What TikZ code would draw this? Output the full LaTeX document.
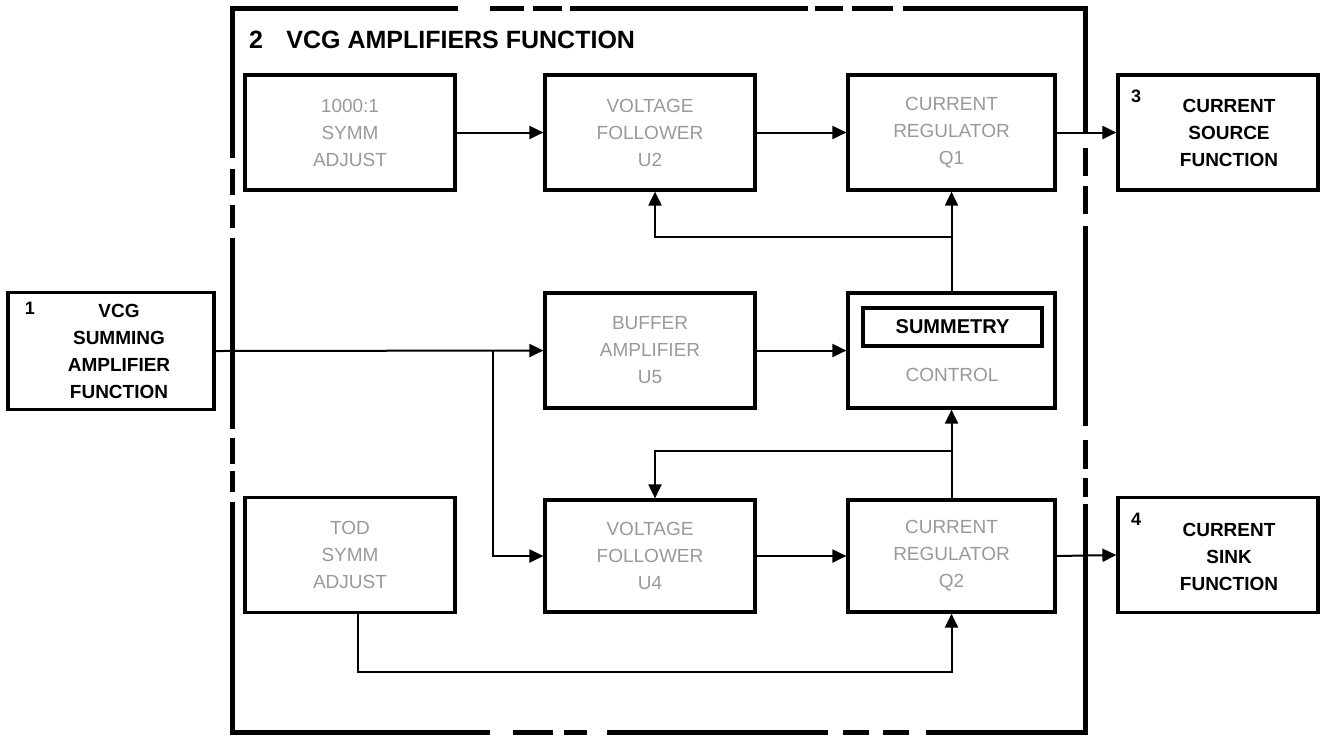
\documentclass[tikz,border=0pt]{standalone}
\usepackage{fontspec}
\setmainfont{Liberation Sans}
\usetikzlibrary{arrows.meta}
\begin{document}
\begin{tikzpicture}[x=0.5pt,y=-0.5pt,
  blk/.style={draw, line width=1.6pt, inner sep=0pt, align=center,
    font=\fontsize{9.5}{13.5}\selectfont, text=black!40},
  bx/.style={draw, line width=1.6pt, inner sep=0pt},
  btext/.style={inner sep=0pt, align=center, font=\fontsize{9.5}{13.5}\selectfont\bfseries},
  gtext/.style={inner sep=0pt, align=center, font=\fontsize{9.5}{13.5}\selectfont, text=black!40},
  num/.style={inner sep=0pt, font=\fontsize{9}{11}\selectfont\bfseries},
  conn/.style={line width=1pt},
  arr/.style={conn, -{Triangle[length=7pt,width=6.5pt]}},
  brd/.style={line width=2.5pt}
]
\useasboundingbox (0,0) rectangle (1325,740);

% dashed enclosure
\draw[brd] (232,158) -- (232,8) -- (458,8);
\draw[brd] (490,8) -- (524,8);
\draw[brd] (533,8) -- (562,8);
\draw[brd] (570,8) -- (808,8);
\draw[brd] (815,8) -- (843,8);
\draw[brd] (852,8) -- (893,8);
\draw[brd] (903,8) -- (1085,8) -- (1085,134);
\draw[brd] (1085,148) -- (1085,176);
\draw[brd] (1085,186) -- (1085,214);
\draw[brd] (1085,226) -- (1085,426);
\draw[brd] (1085,440) -- (1085,469);
\draw[brd] (1085,478) -- (1085,497);
\draw[brd] (1085,504) -- (1085,732) -- (926,732);
\draw[brd] (909,732) -- (883,732);
\draw[brd] (869,732) -- (843,732);
\draw[brd] (828,732) -- (607,732);
\draw[brd] (587,732) -- (564,732);
\draw[brd] (553,732) -- (513,732);
\draw[brd] (490,732) -- (232,732) -- (232,502);
\draw[brd] (232,492) -- (232,471);
\draw[brd] (232,464) -- (232,438);
\draw[brd] (232,429) -- (232,238);
\draw[brd] (232,228) -- (232,205);
\draw[brd] (232,195) -- (232,169);

% title
\node[inner sep=0pt, font=\fontsize{12.5}{14}\selectfont\bfseries] (n2) at (256,40) {2};
\node[inner sep=0pt, anchor=west, font=\fontsize{12.5}{14}\selectfont\bfseries] (ttl) at (286,40) {VCG AMPLIFIERS FUNCTION};

% top row
\node[blk, minimum width=105pt, minimum height=57.5pt] (A) at (350,132.5) {1000:1\\SYMM\\ADJUST};
\node[blk, minimum width=105pt, minimum height=57.5pt] (U2) at (650,132.5) {VOLTAGE\\FOLLOWER\\U2};
\node[blk, minimum width=103.5pt, minimum height=57.5pt] (Q1) at (951.5,132.5) {CURRENT\\REGULATOR\\Q1};
\node[bx, minimum width=100pt, minimum height=57.5pt] (F3) at (1218,132.5) {};
\node[num] (n3) at (1136,96) {3};
\node[btext] (t3) at (1229,133) {CURRENT\\SOURCE\\FUNCTION};

% middle row
\node[bx, minimum width=103pt, minimum height=58.5pt] (F1) at (111,351) {};
\node[num] (n1) at (30,308) {1};
\node[btext] (t1) at (119,351) {VCG\\SUMMING\\AMPLIFIER\\FUNCTION};
\node[blk, minimum width=105pt, minimum height=57.5pt] (U5) at (650,350.5) {BUFFER\\AMPLIFIER\\U5};
\node[bx, minimum width=103.5pt, minimum height=57.5pt] (CT) at (951.5,350.5) {};
\node[draw, line width=2.2pt, inner sep=0pt, minimum width=89.5pt, minimum height=19pt,
  font=\fontsize{10}{12}\selectfont\bfseries] (SY) at (952.5,327) {SUMMETRY};
\node[gtext] (tc) at (952,375) {CONTROL};

% bottom row
\node[blk, minimum width=105pt, minimum height=57.5pt] (TOD) at (350,555) {TOD\\SYMM\\ADJUST};
\node[blk, minimum width=105pt, minimum height=56pt] (U4) at (650,556) {VOLTAGE\\FOLLOWER\\U4};
\node[blk, minimum width=103.5pt, minimum height=56pt] (Q2) at (951.5,556) {CURRENT\\REGULATOR\\Q2};
\node[bx, minimum width=100pt, minimum height=57.5pt] (F4) at (1218,555) {};
\node[num] (n4) at (1136,519) {4};
\node[btext] (t4) at (1229,557) {CURRENT\\SINK\\FUNCTION};

% connectors
\coordinate (j1) at (493,350.5);
\coordinate (k1) at (951.5,237);
\coordinate (k2) at (655,237);
\coordinate (k3) at (951.5,451);
\coordinate (k4) at (655,451);
\coordinate (b1) at (358,672);
\coordinate (b2) at (951.5,672);

\draw[arr] (A.east) -- (U2.west);
\draw[arr] (U2.east) -- (Q1.west);
\draw[arr] (Q1.east) -- (F3.west);
\draw[arr] (F1.east) -- (U5.west);
\draw[arr] (j1) |- (U4.west);
\draw[arr] (U5.east) -- (CT.west);
\draw[arr] (CT.north) -- (Q1.south);
\draw[arr] (k1) -- (k2) -- (k2 |- U2.south);
\draw[arr] (Q2.north) -- (CT.south);
\draw[arr] (k3) -- (k4) -- (k4 |- U4.north);
\draw[arr] (U4.east) -- (Q2.west);
\draw[arr] (Q2.east) -- (F4.west);
\draw[arr] (b1 |- TOD.south) -- (b1) -- (b2) -- (Q2.south);
\end{tikzpicture}
\end{document}
